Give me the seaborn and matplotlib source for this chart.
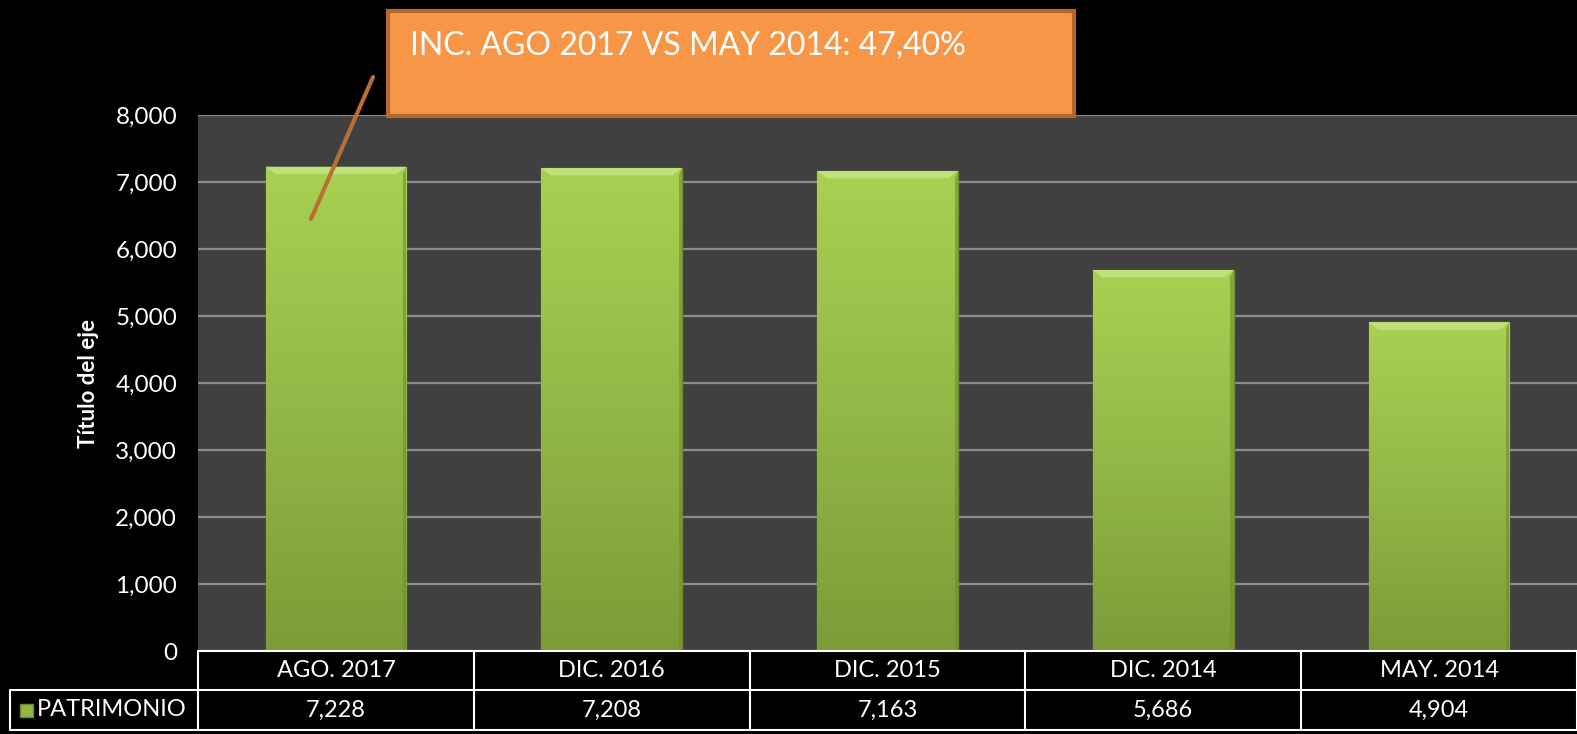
import numpy as np
import pandas as pd
import matplotlib
matplotlib.use("Agg")
import matplotlib.pyplot as plt
import seaborn as sns
from matplotlib.colors import LinearSegmentedColormap
from matplotlib.patches import Rectangle, Polygon
from matplotlib.lines import Line2D
from matplotlib.transforms import blended_transform_factory

# data
periods = ["AGO. 2017", "DIC. 2016", "DIC. 2015", "DIC. 2014", "MAY. 2014"]
patrimonio = [7228, 7208, 7163, 5686, 4904]
series_name = "PATRIMONIO"
y_ticks = [0, 1000, 2000, 3000, 4000, 5000, 6000, 7000, 8000]
y_title = "Título del eje"
callout_text = "INC. AGO 2017 VS MAY 2014: 47,40%"

W, H = 1577, 734

sns.set_theme(style="dark")
plt.rcParams['font.family'] = ['Lato', 'DejaVu Sans']

fig = plt.figure(figsize=(W / 100, H / 100), dpi=100, facecolor='black')
ax = fig.add_axes([198 / W, 1 - 651 / H, 1 - 198 / W, 536 / H])
ax.set_facecolor('#404040')

df = pd.DataFrame({"Periodo": periods, "Valor": patrimonio})
sns.barplot(data=df, x="Periodo", y="Valor", color="#9BC24A", saturation=1,
            width=0.51, ax=ax, zorder=3)

# gradient fill for the bars
cmap = LinearSegmentedColormap.from_list("bar", ["#7C9C38", "#92B846", "#A8D152"])
grad = np.linspace(0, 1, 256).reshape(-1, 1)
bev_x = 0.035   # bevel inset, data units
bev_y = 110
for p in list(ax.patches):
    x0, w, h = p.get_x(), p.get_width(), p.get_height()
    p.set_edgecolor('#6E8A30')
    p.set_linewidth(1)
    im = ax.imshow(grad, cmap=cmap, origin='lower', aspect='auto',
                   extent=(x0, x0 + w, 0, h), zorder=3.5)
    im.set_clip_path(p)
    # bevel: light top trapezoid, darker sides
    ax.add_patch(Polygon([(x0, h), (x0 + w, h), (x0 + w - bev_x, h - bev_y), (x0 + bev_x, h - bev_y)],
                         closed=True, facecolor='#C6E88A', edgecolor='none', alpha=0.75, zorder=4))
    ax.add_patch(Polygon([(x0 + w, h), (x0 + w, 0), (x0 + w - 0.012, 0), (x0 + w - 0.012, h - bev_y)],
                         closed=True, facecolor='#6F8C2E', edgecolor='none', alpha=0.6, zorder=4))

ax.set_xlim(-0.5, len(periods) - 0.5)
ax.set_ylim(0, 8000)
ax.set_yticks(y_ticks)
ax.set_yticklabels([f"{v:,}" for v in y_ticks])
ax.yaxis.grid(True, color='#8C8C8C', linewidth=1.6)
ax.xaxis.grid(False)
ax.set_axisbelow(True)
ax.tick_params(axis='y', colors='white', labelsize=17.5, length=0, pad=15)
ax.set_xticks([])
ax.set_xlabel("")
ax.set_ylabel(y_title, color='white', fontsize=16, fontweight='bold')
ax.yaxis.set_label_coords((99 - 198) / 1379, 0.5)
for s in ax.spines.values():
    s.set_visible(False)

# data table under the axis
tr = blended_transform_factory(ax.transData, ax.transAxes)
r1 = -39 / 536
r2 = -79 / 536
left = (10 - 198) / 1379
lc = dict(color='white', linewidth=1.5, clip_on=False, zorder=5)
ax.plot([-0.5, len(periods) - 0.5], [0, 0], transform=tr, **lc)
for yy in (r1, r2):
    ax.plot([left, 1], [yy, yy], transform=ax.transAxes, **lc)
ax.plot([left, left], [r1, r2], transform=ax.transAxes, **lc)
for i in range(len(periods) + 1):
    ax.plot([i - 0.5, i - 0.5], [0, r2], transform=tr, **lc)
for i, (lab, v) in enumerate(zip(periods, patrimonio)):
    ax.text(i, r1 / 2, lab, transform=tr, ha='center', va='center',
            color='white', fontsize=17)
    ax.text(i, (r1 + r2) / 2, f"{v:,}", transform=tr, ha='center', va='center',
            color='white', fontsize=17)
ax.add_patch(Rectangle(((20 - 198) / 1379, (r1 + r2) / 2 - 6.5 / 536), 13 / 1379, 13 / 536,
                       transform=ax.transAxes, facecolor='#92B846', edgecolor='#6E8A30',
                       linewidth=1, clip_on=False))
ax.text((37 - 198) / 1379, (r1 + r2) / 2, series_name, transform=ax.transAxes,
        ha='left', va='center', color='white', fontsize=17)

# callout
fig.add_artist(Line2D([373 / W, 311 / W], [1 - 77 / H, 1 - 219 / H],
                      color='#B86F34', linewidth=3, zorder=10))
fig.add_artist(Rectangle((388 / W, 1 - 116 / H), 686 / W, 105 / H,
                         facecolor='#F79646', edgecolor='#B5682E', linewidth=3, zorder=11))
fig.text(410 / W, 1 - 46 / H, callout_text, color='white', fontsize=23,
         ha='left', va='center', zorder=12)

fig.savefig("out.png", dpi=100, facecolor='black')
